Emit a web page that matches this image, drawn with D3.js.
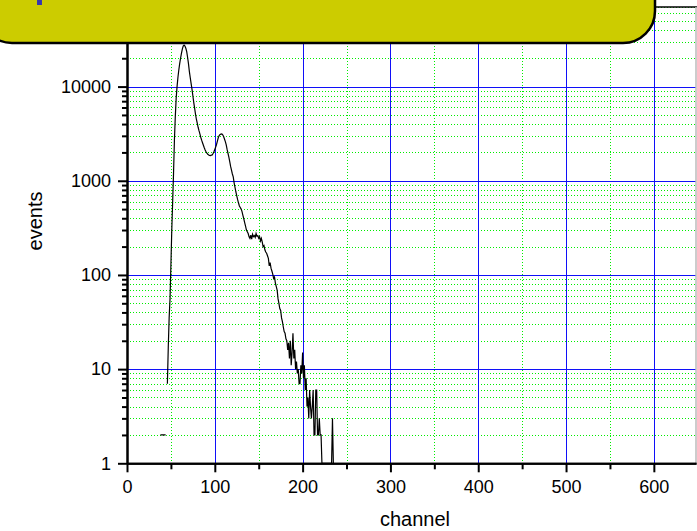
<!DOCTYPE html>
<html>
<head>
<meta charset="utf-8">
<script src="https://d3js.org/d3.v7.min.js"></script>
<style>
  body { margin: 0; background: #fff; }
  svg { display: block; font-family: Arial, "Liberation Sans", sans-serif; }
</style>
</head>
<body>
<svg id="chart" width="697" height="531"></svg>
<script>
// spectrum counts, one value per channel, starting at firstChannel
var firstChannel = 38;
var counts = [
  2, 2, 2, 2, 2, 2, 2, 0,                                   // 38-45
  7, 17, 35, 56, 127, 300, 600, 1200, 2700, 4800,           // 46-55
  7500, 10000, 12500, 15000, 17500, 20000, 22500, 25000, 27000, 27600, // 56-65
  27000, 25500, 23500, 20500, 17500, 14500, 12500, 10800, 9400, 8000,  // 66-75
  6800, 5900, 5100, 4500, 4100, 3700, 3400, 3150, 2900, 2700,          // 76-85
  2530, 2380, 2240, 2120, 2030, 1960, 1910, 1880, 1860, 1850,          // 86-95
  1870, 1880, 1950, 2030, 2150, 2280, 2430, 2650, 2880, 3020,          // 96-105
  3100, 3130, 3150, 3080, 2950, 2780, 2600, 2400, 2150, 1960,          // 106-115
  1780, 1600, 1420, 1300, 1180, 1100, 950, 850, 760, 690,              // 116-125
  630, 580, 540, 520, 500, 470, 430, 395, 360, 330,                    // 126-135
  300, 288, 275, 255, 245, 265, 240, 270, 255, 262,                    // 136-145
  250, 275, 258, 260, 245, 255, 230, 245, 225, 200,                    // 146-155
  205, 185, 175, 170, 160, 150, 125, 135, 118, 110,                    // 156-165
  102, 92, 95, 82, 75, 69, 56, 50, 44, 42,                             // 166-175
  35, 32, 28, 25, 24, 21, 20, 16, 19, 13,                              // 176-185
  20, 11, 15, 24, 13, 16, 10, 12, 9, 10,                               // 186-195
  7, 7, 11, 9, 15, 8, 11, 6, 8, 4,                                     // 196-205
  5, 3, 6, 4, 3, 4, 6, 2, 2, 6,                                        // 206-215
  6, 2, 2, 3, 2, 2, 1, 1, 1, 1,                                        // 216-225
  1, 1, 1, 1, 1, 1, 1, 1, 3, 1                                         // 226-235
];

var xTickValues = [0, 100, 200, 300, 400, 500, 600];
var xMinorValues = [50, 150, 250, 350, 450, 550, 650];
var yTickValues = [1, 10, 100, 1000, 10000];
var titleText = "Spectrum";
var xLabel = "channel";
var yLabel = "events";

var w = 697, h = 531;
var pLeft = 127, pRight = 696, pTop = 7, pBottom = 463.3;

var x = d3.scaleLinear().domain([0, 648]).range([pLeft, pRight]);
var y = d3.scaleLog().domain([1, 70000]).range([pBottom, pTop]);

var yMinorValues = y.ticks().filter(function (d) {
  return yTickValues.indexOf(d) < 0;
});

var svg = d3.select("#chart");

svg.append("defs").append("clipPath").attr("id", "plotclip")
  .append("rect")
  .attr("x", pLeft).attr("y", pTop)
  .attr("width", pRight - pLeft).attr("height", pBottom - pTop);

// minor grid, green dotted
var grid = svg.append("g").attr("shape-rendering", "crispEdges");
grid.selectAll("line.vminor").data(xMinorValues).enter().append("line")
  .attr("class", "vminor")
  .attr("x1", function (d) { return Math.round(x(d)) + 0.5; })
  .attr("x2", function (d) { return Math.round(x(d)) + 0.5; })
  .attr("y1", pTop).attr("y2", pBottom)
  .attr("stroke", "#00ee00").attr("stroke-dasharray", "1,2");

grid.selectAll("line.hminor").data(yMinorValues).enter().append("line")
  .attr("class", "hminor")
  .attr("x1", pLeft).attr("x2", pRight)
  .attr("y1", function (d) { return Math.round(y(d)) + 0.5; })
  .attr("y2", function (d) { return Math.round(y(d)) + 0.5; })
  .attr("stroke", "#00ee00").attr("stroke-dasharray", "1,2");

// major grid, blue
grid.selectAll("line.vmajor").data(xTickValues.slice(1)).enter().append("line")
  .attr("class", "vmajor")
  .attr("x1", function (d) { return Math.round(x(d)) + 0.5; })
  .attr("x2", function (d) { return Math.round(x(d)) + 0.5; })
  .attr("y1", pTop).attr("y2", pBottom)
  .attr("stroke", "#1010f8");

grid.selectAll("line.hmajor").data(yTickValues.slice(1)).enter().append("line")
  .attr("class", "hmajor")
  .attr("x1", pLeft).attr("x2", pRight)
  .attr("y1", function (d) { return Math.round(y(d)) + 0.5; })
  .attr("y2", function (d) { return Math.round(y(d)) + 0.5; })
  .attr("stroke", "#1010f8");

// frame top / right
svg.append("line").attr("x1", pLeft).attr("x2", w).attr("y1", pTop).attr("y2", pTop)
  .attr("stroke", "#000").attr("stroke-width", 1.5);
svg.append("line").attr("x1", pRight).attr("x2", pRight).attr("y1", pTop).attr("y2", pBottom)
  .attr("stroke", "#bbb").attr("stroke-width", 1.5);

// the spectrum
var data = counts.map(function (c, i) { return { ch: firstChannel + i, v: c }; });
var line = d3.line()
  .defined(function (d) { return d.v > 0; })
  .x(function (d) { return x(d.ch); })
  .y(function (d) { return y(d.v); });

svg.append("path")
  .datum(data)
  .attr("clip-path", "url(#plotclip)")
  .attr("d", line)
  .attr("fill", "none")
  .attr("stroke", "#000")
  .attr("stroke-width", 1.2);

// axes
function styleAxis(g) {
  g.select(".domain").attr("stroke", "#000").attr("stroke-width", 2);
  g.selectAll(".tick line").attr("stroke", "#000").attr("stroke-width", 2);
  g.selectAll(".tick text").attr("fill", "#000").style("font-size", "18px")
    .style("font-family", "Arial, 'Liberation Sans', sans-serif");
}

svg.append("g")
  .attr("transform", "translate(0," + pBottom + ")")
  .call(d3.axisBottom(x).tickValues(xMinorValues.filter(function (d) { return d < 648; }))
    .tickSize(6).tickSizeOuter(0).tickFormat(""))
  .call(styleAxis);

svg.append("g")
  .attr("transform", "translate(0," + pBottom + ")")
  .call(d3.axisBottom(x).tickValues(xTickValues).tickSize(9).tickSizeOuter(0).tickPadding(8))
  .call(styleAxis);

svg.append("g")
  .attr("transform", "translate(" + pLeft + ",0)")
  .call(d3.axisLeft(y).tickValues(yMinorValues).tickSize(5).tickSizeOuter(0).tickFormat(""))
  .call(styleAxis);

svg.append("g")
  .attr("transform", "translate(" + pLeft + ",0)")
  .call(d3.axisLeft(y).tickValues(yTickValues).tickSize(9).tickSizeOuter(0).tickPadding(7)
    .tickFormat(d3.format("d")))
  .call(styleAxis);

// axis titles
svg.append("text")
  .attr("x", 415).attr("y", 526)
  .attr("text-anchor", "middle")
  .style("font-size", "20px")
  .text(xLabel);

svg.append("text")
  .attr("transform", "translate(42,221)rotate(-90)")
  .attr("text-anchor", "middle")
  .style("font-size", "20px")
  .text(yLabel);

// title banner
var banner = svg.append("g");
banner.append("rect")
  .attr("x", -20).attr("y", -60)
  .attr("width", 675).attr("height", 103)
  .attr("rx", 32).attr("ry", 32)
  .attr("fill", "#cccc00")
  .attr("stroke", "#000")
  .attr("stroke-width", 2.5);
banner.append("text")
  .attr("x", -4).attr("y", -7)
  .attr("fill", "#3535b0")
  .style("font-size", "56px")
  .text(titleText);
</script>
</body>
</html>
